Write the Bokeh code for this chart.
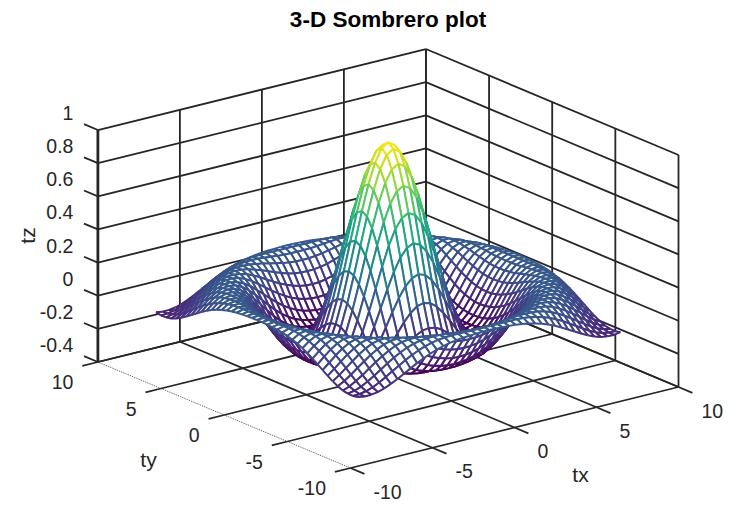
from bokeh.plotting import figure
from bokeh.embed import file_html
from bokeh.resources import INLINE
from bokeh.models import Range1d, ColumnDataSource
from bokeh.palettes import Viridis256
from bokeh.core.properties import value

# ---- chart values ----
title = "3-D Sombrero plot"
tx_ticks = [-10, -5, 0, 5, 10]
ty_ticks = [-10, -5, 0, 5, 10]
tz_ticks = [-0.4, -0.2, 0, 0.2, 0.4, 0.6, 0.8, 1]
tz_tick_labels = ["-0.4", "-0.2", "0", "0.2", "0.4", "0.6", "0.8", "1"]
mesh_step = 0.4          # mesh runs from -8 to 8 on both horizontal axes

# tz per mesh cell, one quadrant (row = |tx| step, column = |ty| step, lower triangle);
# the hat is symmetric, so the other cells repeat these values
tz_rows = [
    [1.000],
    [.974, .947],
    [.897, .871, .799],
    [.777, .753, .687, .584],
    [.625, .604, .546, .455, .340],
    [.455, .437, .387, .310, .214, .110],
    [.281, .267, .227, .166, .089, .007, -.073],
    [.120, .110, .079, .032, -.025, -.085, -.140, -.183],
    [-.018, -.025, -.046, -.079, -.118, -.156, -.189, -.210, -.217],
    [-.123, -.127, -.140, -.160, -.181, -.200, -.213, -.216, -.207, -.182],
    [-.189, -.191, -.197, -.206, -.212, -.216, -.213, -.201, -.179, -.146, -.104],
    [-.216, -.216, -.216, -.216, -.213, -.205, -.191, -.168, -.137, -.099, -.056, -.009],
    [-.208, -.207, -.203, -.196, -.185, -.170, -.147, -.119, -.085, -.047, -.006, .034, .071],
    [-.170, -.168, -.162, -.152, -.137, -.117, -.092, -.062, -.029, .006, .041, .074, .100, .118],
    [-.113, -.111, -.104, -.092, -.076, -.056, -.031, -.004, .025, .054, .082, .104, .120, .127, .126],
    [-.047, -.045, -.038, -.027, -.011, .006, .027, .050, .073, .094, .111, .122, .127, .125, .115, .095],
    [.018, .020, .025, .034, .047, .061, .077, .093, .106, .118, .125, .128, .124, .112, .093, .069, .040],
    [.073, .074, .078, .084, .093, .101, .111, .118, .124, .127, .126, .120, .107, .088, .065, .038, .010, -.020],
    [.110, .111, .112, .115, .120, .123, .127, .128, .126, .122, .113, .099, .080, .058, .033, .006, -.021, -.046, -.068],
    [.127, .127, .127, .127, .128, .127, .125, .120, .112, .101, .086, .068, .047, .023, -.001, -.026, -.049, -.069, -.082, -.090],
    [.124, .124, .122, .120, .117, .112, .105, .095, .084, .069, .052, .032, .010, -.012, -.034, -.054, -.071, -.084, -.090, -.091, -.084],
]

# ---- view: parallel projection of the box, from its corners on the page ----
FONT = "Liberation Sans"
INK = "#262626"
PX, PY = 350.0, 467.5       # tx=-10, ty=-10, tz=-0.4
TX_DX, TX_DY = 16.4, -4.05
TY_DX, TY_DY = -12.63, -5.3
TZ_DY = -165.7


def project(tx, ty, tz):
    return (PX + (tx + 10) * TX_DX + (ty + 10) * TY_DX,
            PY + (tx + 10) * TX_DY + (ty + 10) * TY_DY + (tz + 0.4) * TZ_DY)


def tz_at(i, j):
    a, b = abs(i), abs(j)
    if b > a:
        a, b = b, a
    return tz_rows[a][b]


zmin = min(min(r) for r in tz_rows)
zmax = max(max(r) for r in tz_rows)


def mesh_color(z):
    k = int(round(255 * (z - zmin) / (zmax - zmin)))
    return Viridis256[max(0, min(255, k))]


p = figure(width=734, height=509, output_backend="svg", toolbar_location=None,
           x_range=Range1d(0, 734), y_range=Range1d(509, 0),
           min_border=0, outline_line_color=None, background_fill_color="white")
p.xaxis.visible = False
p.yaxis.visible = False
p.grid.visible = False

# ---- walls and floor ----
xs, ys = [], []


def seg(a, b):
    pa, pb = project(*a), project(*b)
    xs.append([pa[0], pb[0]])
    ys.append([pa[1], pb[1]])


Z0, Z1 = tz_ticks[0], tz_ticks[-1]
for t in tx_ticks:
    seg((t, 10, Z0), (t, 10, Z1))
    if t > -10:
        seg((t, -10, Z0), (t, 10, Z0))
    seg((t, -10, Z0), (t, -11.1, Z0))
for t in ty_ticks:
    seg((10, t, Z0), (10, t, Z1))
    seg((-10, t, Z0), (10, t, Z0))
    seg((-10, t, Z0), (-10.95, t, Z0))
for z in tz_ticks:
    seg((-10, 10, z), (10, 10, z))
    seg((10, -10, z), (10, 10, z))
    seg((-10, 10, z), (-10, 11.1, z))
p.multi_line(xs, ys, line_color=INK, line_width=1.8)

# front-left floor edge, dotted; doubled left vertical
xs, ys = [], []
seg((-10, -10, Z0), (-10, 10, Z0))
p.multi_line(xs, ys, line_color=INK, line_width=0.8, line_dash="1 1")
xs, ys = [], []
seg((-10, 10, Z0), (-10, 10, Z1))
p.multi_line(xs, ys, line_color=INK, line_width=2.8)

# ---- mesh: white cells with coloured edges, painted from the far corner forward ----
qx, qy, fill_a, line_a, line_c = [], [], [], [], []


def node(i, j):
    return project(i * mesh_step, j * mesh_step, tz_at(i, j))


def edge(n1, n2):
    a, b = node(*n1), node(*n2)
    z = (tz_at(*n1) + tz_at(*n2)) / 2
    qx.append([a[0], b[0]])
    qy.append([a[1], b[1]])
    fill_a.append(0.0)
    line_a.append(1.0)
    line_c.append(mesh_color(z))


for i in range(19, -21, -1):
    for j in range(19, -21, -1):
        corners = [(i, j), (i + 1, j), (i + 1, j + 1), (i, j + 1)]
        pts = [node(*c) for c in corners]
        qx.append([q[0] for q in pts])
        qy.append([q[1] for q in pts])
        fill_a.append(1.0)
        line_a.append(0.0)
        line_c.append("#ffffff")
        for k in range(4):
            edge(corners[k], corners[(k + 1) % 4])

src = ColumnDataSource(dict(x=qx, y=qy, fa=fill_a, la=line_a, lc=line_c))
p.patches("x", "y", source=src, fill_color="white", fill_alpha="fa",
          line_color="lc", line_alpha="la", line_width=2.0)


# ---- texts ----
def label(x, y, s, size, align="center", base="middle", style="normal", angle=0.0):
    p.text([x], [y], text=[s], text_font=value(FONT), text_font_size=size,
           text_color=INK if style == "normal" else "#000000", text_align=align,
           text_baseline=base, text_font_style=style, angle=angle)


TICK = "19.5px"
for t in tx_ticks:
    x, y = project(t, -10, Z0)
    label(x + 23, y + 23.5, str(t), TICK, align="left")
for t in ty_ticks:
    x, y = project(-10, t, Z0)
    label(x - 24.5, y + 20, str(t), TICK, align="right")
for z, s in zip(tz_ticks, tz_tick_labels):
    x, y = project(-10, 10, z)
    label(x - 24.5, y - 17, s, TICK, align="right")

label(148, 459, "ty", "21px")
label(580, 474, "tx", "21px")
label(27, 235, "tz", "21px", angle=1.5708)
label(387.5, 19, title, "22.5px", style="bold")

open("out.html", "w").write(file_html(p, INLINE))
